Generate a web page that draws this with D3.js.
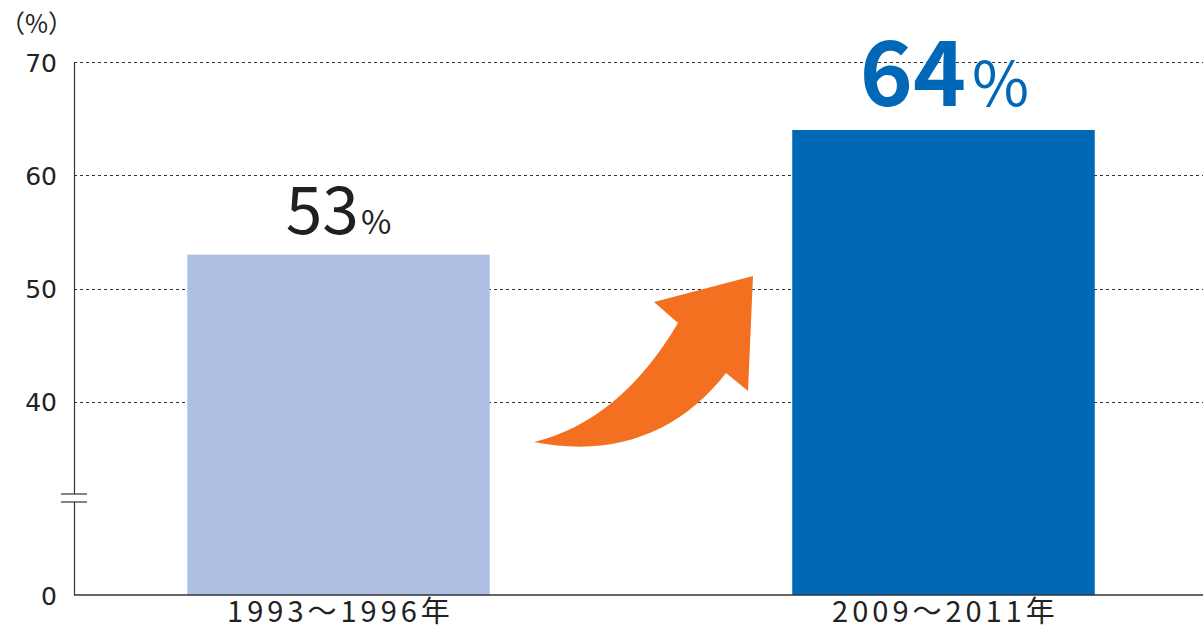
<!DOCTYPE html>
<html>
<head>
<meta charset="utf-8">
<script src="https://d3js.org/d3.v7.min.js"></script>
<style>
  body { margin: 0; background: #fff; }
  text { font-family: "Noto Sans CJK JP", "Noto Sans", sans-serif; }
  .yaxis text { font-family: "DejaVu Sans", sans-serif; font-size: 25px; }
</style>
</head>
<body>
<div class="vis"></div>
<script>
  // data
  var categories = ["1993〜1996年", "2009〜2011年"];
  var values = [53, 64];
  var tickValues = [0, 40, 50, 60, 70];
  var gridValues = [40, 50, 60, 70];
  var barColors = ["#adc0e3", "#0068b7"];

  var width = 1203, height = 631;
  var axisX = 74, baseY = 595, topY = 62;

  var svg = d3.select('.vis').append('svg')
    .attr('width', width)
    .attr('height', height);

  // broken axis: 0..30 squeezed, 30..70 linear
  var y = d3.scaleLinear()
    .domain([0, 30, 70])
    .range([baseY, 515.25, topY]);

  var x = d3.scaleBand()
    .domain(categories)
    .range([36, 1246])
    .paddingInner(0.5)
    .paddingOuter(0.25);

  // dashed grid
  svg.append('g')
    .selectAll('line')
    .data(gridValues)
    .join('line')
    .attr('x1', axisX)
    .attr('x2', width)
    .attr('y1', d => Math.round(y(d)) + 0.5)
    .attr('y2', d => Math.round(y(d)) + 0.5)
    .attr('stroke', '#333')
    .attr('stroke-width', 1)
    .attr('stroke-dasharray', '3,3');

  // bars
  svg.append('g')
    .selectAll('rect')
    .data(values)
    .join('rect')
    .attr('x', (d, i) => x(categories[i]))
    .attr('y', d => y(d))
    .attr('width', x.bandwidth())
    .attr('height', d => baseY - y(d))
    .attr('fill', (d, i) => barColors[i]);

  // y axis
  var yAxis = d3.axisLeft(y)
    .tickValues(tickValues)
    .tickSize(0)
    .tickPadding(17);

  var gy = svg.append('g')
    .attr('class', 'yaxis')
    .attr('transform', 'translate(' + axisX + ',0)')
    .call(yAxis);
  gy.select('.domain').remove();
  gy.selectAll('text')
    .attr('dy', '0.36em')
    .attr('fill', '#222');

  svg.append('line')
    .attr('x1', axisX + 0.5).attr('x2', axisX + 0.5)
    .attr('y1', topY).attr('y2', baseY)
    .attr('stroke', '#333').attr('stroke-width', 1.2);

  // x baseline
  svg.append('line')
    .attr('x1', axisX).attr('x2', width)
    .attr('y1', baseY).attr('y2', baseY)
    .attr('stroke', '#333').attr('stroke-width', 1.5);

  // break marks on the axis
  var breakY = 498;
  svg.append('rect')
    .attr('x', axisX - 13).attr('y', breakY - 4)
    .attr('width', 26).attr('height', 8)
    .attr('fill', '#fff');
  [breakY - 4, breakY + 4].forEach(function (by) {
    svg.append('line')
      .attr('x1', axisX - 13).attr('x2', axisX + 13)
      .attr('y1', by).attr('y2', by)
      .attr('stroke', '#333').attr('stroke-width', 1.2);
  });

  // unit
  svg.append('text')
    .attr('x', 0).attr('y', 33)
    .attr('font-size', 25)
    .attr('fill', '#222')
    .text('（%）');

  // category labels
  svg.append('g')
    .selectAll('text')
    .data(categories)
    .join('text')
    .attr('x', d => x(d) + x.bandwidth() / 2 + 2)
    .attr('y', 622)
    .attr('text-anchor', 'middle')
    .attr('font-size', 29)
    .attr('letter-spacing', 4)
    .attr('fill', '#222')
    .text(d => d);

  // value labels
  var l1 = svg.append('text')
    .attr('x', x(categories[0]) + x.bandwidth() / 2)
    .attr('y', y(values[0]) - 21)
    .attr('text-anchor', 'middle')
    .attr('fill', '#231f20');
  l1.append('tspan').attr('font-size', 66).text(values[0]);
  l1.append('tspan').attr('font-size', 33).attr('dx', 2).text('%');

  var l2 = svg.append('text')
    .attr('x', x(categories[1]) + x.bandwidth() / 2 + 1)
    .attr('y', y(values[1]) - 24)
    .attr('text-anchor', 'middle')
    .attr('fill', '#0068b7');
  l2.append('tspan').attr('font-size', 90).attr('font-weight', 'bold').text(values[1]);
  l2.append('tspan').attr('font-size', 62).attr('dx', 6).text('%');

  // arrow
  var arrowPath = 'M534,442 Q620,421 678,323 L654,302 L753,276 L748,391 L726,373 ' +
    'C680,432 615,458 534,442 Z';
  svg.append('path')
    .attr('d', arrowPath)
    .attr('fill', '#f37021');
</script>
</body>
</html>
